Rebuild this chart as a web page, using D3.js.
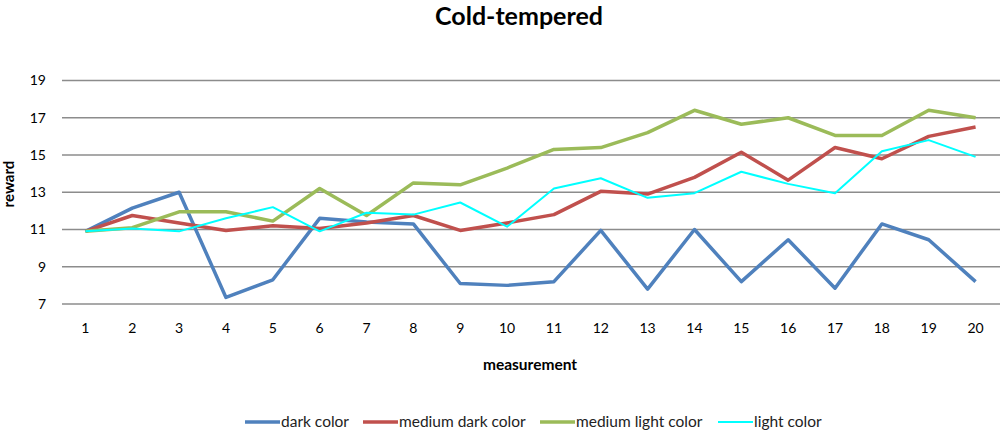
<!DOCTYPE html>
<html><head><meta charset="utf-8">
<script src="https://cdn.jsdelivr.net/npm/d3@7"></script>
<style>body{margin:0;background:#fff;} svg{display:block;font-family:Lato,"Open Sans",sans-serif;}</style>
</head><body>
<svg id="c" width="1000" height="430"></svg>
<script>
const categories = d3.range(1, 21).map(String);
const yTicks = [7, 9, 11, 13, 15, 17, 19];
const seriesNames = ["dark color", "medium dark color", "medium light color", "light color"];
const darkColor = [10.9, 12.15, 13.0, 7.35, 8.3, 11.6, 11.4, 11.3, 8.1, 8.0, 8.2, 10.95, 7.8, 11.0, 8.2, 10.45, 7.85, 11.3, 10.45, 8.2];
const mediumDarkColor = [10.9, 11.75, 11.35, 10.95, 11.2, 11.05, 11.35, 11.75, 10.95, 11.35, 11.8, 13.05, 12.9, 13.8, 15.15, 13.65, 15.4, 14.8, 16.0, 16.5];
const mediumLightColor = [10.9, 11.1, 11.95, 11.95, 11.45, 13.2, 11.75, 13.5, 13.4, 14.3, 15.3, 15.4, 16.2, 17.4, 16.65, 17.0, 16.05, 16.05, 17.4, 17.0];
const lightColor = [10.9, 11.05, 10.9, 11.6, 12.2, 10.9, 11.9, 11.8, 12.45, 11.15, 13.2, 13.75, 12.7, 12.95, 14.1, 13.45, 12.95, 15.2, 15.8, 14.9];

const seriesValues = [darkColor, mediumDarkColor, mediumLightColor, lightColor];
const colors = ["#4F81BD", "#C0504D", "#9BBB59", "#00FFFF"];
const widths = [3.5, 3.5, 3.5, 2];

const svg = d3.select("#c");
const x = d3.scaleBand().domain(categories).range([62, 999]);
const y = d3.scaleLinear().domain([7, 19]).range([304, 80.5]);

// gridlines
svg.append("g").selectAll("line").data(yTicks).join("line")
  .attr("x1", 62).attr("x2", 1000)
  .attr("y1", d => y(d)).attr("y2", d => y(d))
  .attr("stroke", "#8c8c8c").attr("stroke-width", 1.3);

// y axis labels
const yAxis = d3.axisLeft(y).tickValues(yTicks).tickSize(0).tickPadding(0);
const gy = svg.append("g").attr("transform", "translate(46,0)").call(yAxis);
gy.select(".domain").remove();
gy.selectAll("text").attr("font-size", 14).attr("fill", "#000").attr("font-family", "Lato,'Open Sans',sans-serif");

// x axis labels
const xAxis = d3.axisBottom(x).tickSize(0).tickPadding(0);
const gx = svg.append("g").attr("transform", "translate(0,323)").call(xAxis);
gx.select(".domain").remove();
gx.selectAll("text").attr("font-size", 14).attr("fill", "#000").attr("font-family", "Lato,'Open Sans',sans-serif");

// lines
const line = d3.line().x((d, i) => x(categories[i]) + x.bandwidth() / 2).y(d => y(d));
seriesValues.forEach((vals, k) => {
  svg.append("path").datum(vals)
    .attr("d", line)
    .attr("fill", "none")
    .attr("stroke", colors[k])
    .attr("stroke-width", widths[k])
    .attr("stroke-linejoin", "round");
});

// title
svg.append("text").attr("x", 519).attr("y", 25).attr("text-anchor", "middle")
  .attr("font-size", 25).attr("font-weight", "bold").text("Cold-tempered");

// axis titles
svg.append("text").attr("transform", "translate(14,184) rotate(-90)").attr("text-anchor", "middle")
  .attr("font-size", 15).attr("font-weight", "bold").text("reward");
svg.append("text").attr("x", 530).attr("y", 370).attr("text-anchor", "middle")
  .attr("font-size", 15.5).attr("font-weight", "bold").text("measurement");

// legend
const legendX = [245, 363, 540, 718];
const lg = svg.append("g");
seriesNames.forEach((name, k) => {
  const g = lg.append("g").attr("transform", `translate(${legendX[k]},422)`);
  g.append("line").attr("x1", 0).attr("x2", 35).attr("y1", 0).attr("y2", 0)
    .attr("stroke", colors[k]).attr("stroke-width", widths[k]);
  g.append("text").attr("x", 36).attr("y", 5).attr("font-size", 15.5).attr("fill", "#222").text(name);
});
</script>
</body></html>
